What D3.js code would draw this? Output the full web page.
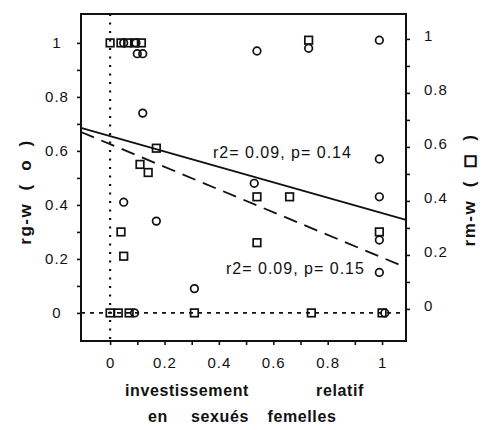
<!DOCTYPE html>
<html><head><meta charset="utf-8">
<script src="https://cdn.jsdelivr.net/npm/d3@7"></script>
<style>
html,body{margin:0;padding:0;background:#fff;}
svg{display:block;font-family:"Liberation Sans",Arial,sans-serif;}
</style></head>
<body><svg id="c" width="494" height="430"></svg>
<script>
// ---- data ----
const circleX = [0.10, 0.12, 0.05, 0.095, 0.12, 0.05, 0.17, 0.31, 0.54, 0.73, 0.99, 0.99, 0.99, 0.99, 0.99, 0.53, 0.09, 1.01];
const circleY = [0.96, 0.96, 1.00, 1.00, 0.74, 0.41, 0.34, 0.09, 0.97, 0.98, 1.01, 0.57, 0.43, 0.27, 0.15, 0.48, 0.00, 0.00];
const squareX = [0.00, 0.04, 0.065, 0.09, 0.115, 0.73, 0.17, 0.11, 0.14, 0.04, 0.05, 0.54, 0.66, 0.54, 0.99, 0.00, 0.03, 0.07, 0.31, 0.74, 1.00];
const squareY = [1.00, 1.00, 1.00, 1.00, 1.00, 1.01, 0.61, 0.55, 0.52, 0.30, 0.21, 0.43, 0.43, 0.26, 0.30, 0.00, 0.00, 0.00, 0.00, 0.00, 0.00];
const fitSolid = {a: 0.655, b: -0.285};   // rg-w regression
const fitDashed = {a: 0.625, b: -0.42};   // rm-w regression
const labelSolid = "r2= 0.09, p= 0.14";
const labelDashed = "r2= 0.09, p= 0.15";
const xTicks = [0,0.1,0.2,0.3,0.4,0.5,0.6,0.7,0.8,0.9,1];
const yTicks = [0,0.1,0.2,0.3,0.4,0.5,0.6,0.7,0.8,0.9,1];
const xDomain = [-0.107, 1.088];
const yDomain = [-0.104, 1.107];

// ---- layout ----
const svg = d3.select("#c");
const L = 81, R = 406, T = 14, B = 341;
const x = d3.scaleLinear().domain(xDomain).range([L, R]);
const y = d3.scaleLinear().domain(yDomain).range([B, T]);
const fmt = v => (Math.round(v*10) % 2 === 0) ? (v === 0 ? "0" : v === 1 ? "1" : d3.format(".1f")(v)) : "";

// reference lines
svg.append("line").attr("x1", x(0)).attr("x2", x(0)).attr("y1", T).attr("y2", B)
  .attr("stroke", "#111").attr("stroke-width", 2.2).attr("stroke-dasharray", "2,6.5");
svg.append("line").attr("x1", L).attr("x2", R).attr("y1", y(0)).attr("y2", y(0))
  .attr("stroke", "#111").attr("stroke-width", 1.8).attr("stroke-dasharray", "4,5");

// axes
const ax = svg.append("g").attr("transform", `translate(0,${B})`)
  .call(d3.axisBottom(x).tickValues(xTicks).tickSize(4).tickPadding(12).tickFormat(fmt));
const ayl = svg.append("g").attr("transform", `translate(${L},0)`)
  .call(d3.axisLeft(y).tickValues(yTicks).tickSize(4).tickPadding(20).tickFormat(fmt));
const ayr = svg.append("g").attr("transform", `translate(${R},-4)`)
  .call(d3.axisRight(y).tickValues(yTicks).tickSize(4).tickPadding(14).tickFormat(fmt));
[ax, ayl, ayr].forEach(g => {
  g.select(".domain").remove();
  g.selectAll("line").attr("stroke", "#111").attr("stroke-width", 1.6);
  g.selectAll("text").attr("fill", "#111").attr("font-size", 15).attr("letter-spacing", 1)
    .attr("font-family", "'Liberation Sans',Arial,sans-serif");
});
ayl.selectAll("text").attr("text-anchor", "middle").attr("x", -24);
ayr.selectAll("text").attr("dy", "0.1em");

// frame
svg.append("rect").attr("x", L).attr("y", T).attr("width", R-L).attr("height", B-T)
  .attr("fill", "none").attr("stroke", "#111").attr("stroke-width", 2);

// regression lines
svg.append("line").attr("x1", x(xDomain[0])).attr("x2", x(xDomain[1]))
  .attr("y1", y(fitSolid.a + fitSolid.b*xDomain[0])).attr("y2", y(fitSolid.a + fitSolid.b*xDomain[1]))
  .attr("stroke", "#111").attr("stroke-width", 1.8);
svg.append("line").attr("x1", x(xDomain[0])).attr("x2", x(xDomain[1]))
  .attr("y1", y(fitDashed.a + fitDashed.b*xDomain[0])).attr("y2", y(fitDashed.a + fitDashed.b*xDomain[1]))
  .attr("stroke", "#111").attr("stroke-width", 1.8).attr("stroke-dasharray", "14,8");

// markers
svg.append("g").selectAll("rect").data(squareX.map((v,i)=>[v,squareY[i]])).join("rect")
  .attr("x", d => x(d[0]) - 3.8).attr("y", d => y(d[1]) - 3.8).attr("width", 7.6).attr("height", 7.6)
  .attr("fill", "none").attr("stroke", "#111").attr("stroke-width", 1.7);
svg.append("g").selectAll("circle").data(circleX.map((v,i)=>[v,circleY[i]])).join("circle")
  .attr("cx", d => x(d[0])).attr("cy", d => y(d[1])).attr("r", 3.8)
  .attr("fill", "none").attr("stroke", "#111").attr("stroke-width", 1.7);

// fit labels
svg.append("text").attr("x", 213).attr("y", 158).attr("font-size", 16).attr("letter-spacing", 1)
  .attr("fill", "#111").text(labelSolid);
svg.append("text").attr("x", 226).attr("y", 274).attr("font-size", 16).attr("letter-spacing", 1)
  .attr("fill", "#111").text(labelDashed);

// x title
const tt = svg.append("g").attr("font-weight", "bold").attr("font-size", 16).attr("letter-spacing", 0.6).attr("fill", "#111");
[["investissement", 187, 396], ["relatif", 340, 396], ["en", 158, 422], ["sexués", 220, 422], ["femelles", 302, 422]]
  .forEach(([t, cx, cy]) => tt.append("text").attr("x", cx).attr("y", cy).attr("text-anchor", "middle").text(t));

// y titles
svg.append("text").attr("transform", "translate(31,192) rotate(-90)").attr("text-anchor", "middle")
  .attr("font-weight", "bold").attr("font-size", 17).attr("letter-spacing", 1.5).attr("fill", "#111")
  .style("white-space", "pre").text("rg-w  (  o  )");
const rt = svg.append("text").attr("transform", "translate(475,190) rotate(-90)").attr("text-anchor", "middle")
  .attr("font-weight", "bold").attr("font-size", 17).attr("letter-spacing", 1.5).attr("fill", "#111")
  .style("white-space", "pre");
rt.append("tspan").text("rm-w  (  ");
rt.append("tspan").attr("font-family", "'Noto Sans CJK SC'").attr("font-size", 13)
  .attr("fill", "#111").attr("stroke", "#111").attr("stroke-width", 1.4).text("□");
rt.append("tspan").text("  )");
</script></body></html>
